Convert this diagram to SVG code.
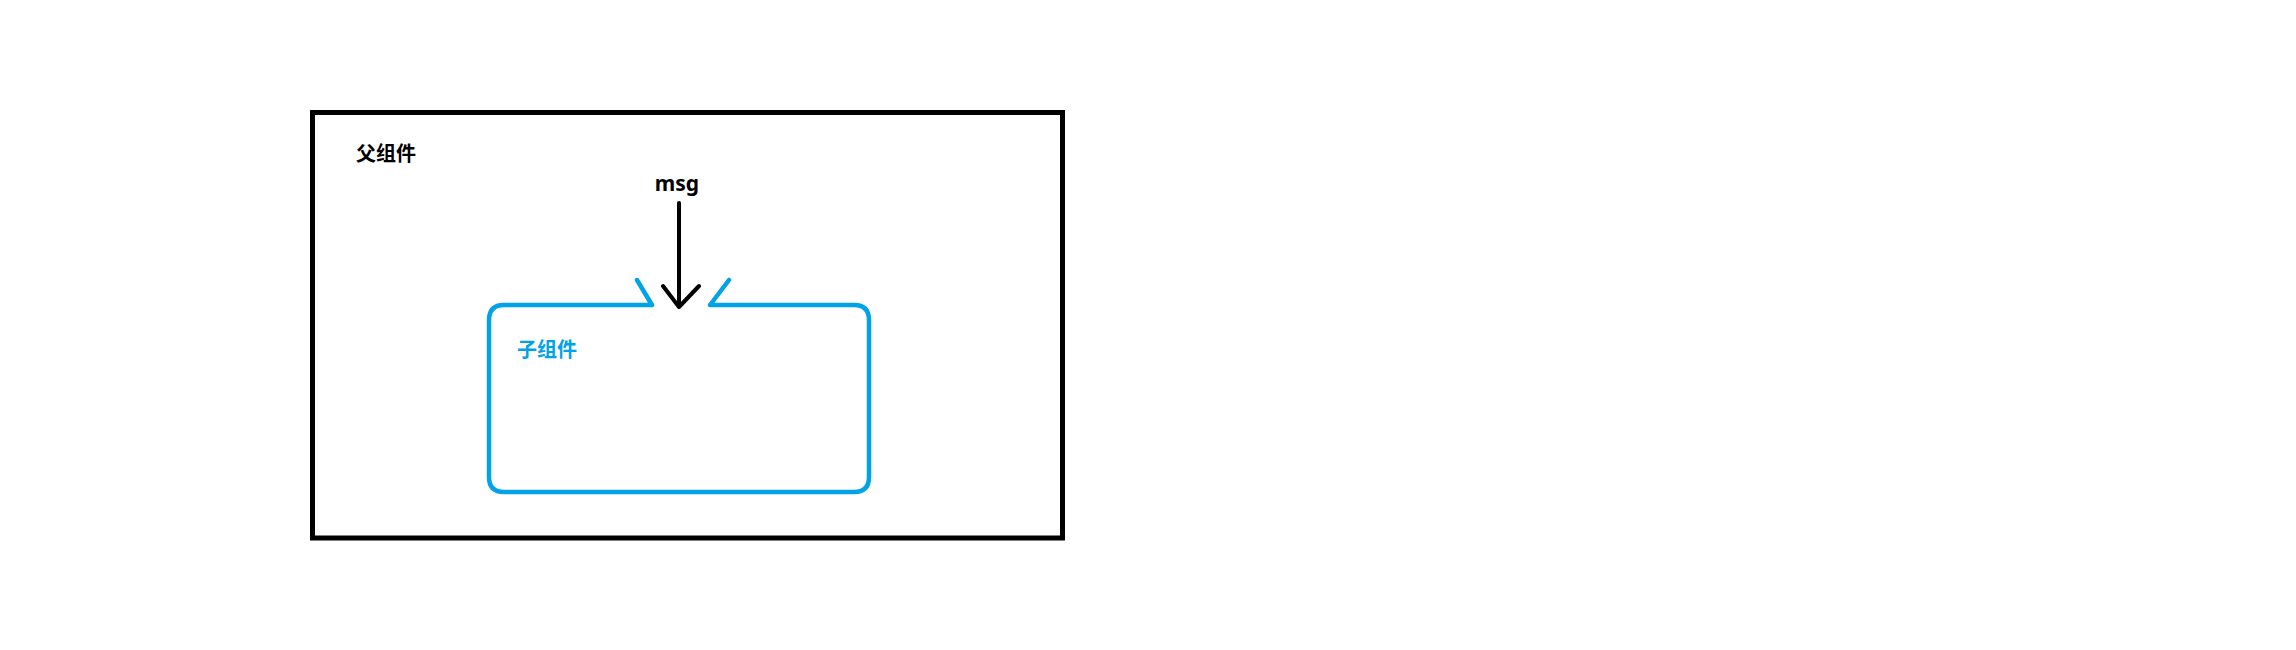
<svg xmlns="http://www.w3.org/2000/svg" width="2296" height="650" viewBox="0 0 2296 650">
<style>
.lbl{font-family:"Noto Sans","Noto Sans CJK SC",sans-serif;font-weight:bold;font-size:20px}
.blue{stroke:#00A2E8;fill:none;stroke-width:4.5;stroke-linecap:round;stroke-linejoin:round}
</style>
<rect x="0" y="0" width="2296" height="650" fill="#fff"/>
<g id="parent">
<rect x="312.5" y="112.5" width="750" height="425.5" fill="none" stroke="#000" stroke-width="5"/>
<text class="lbl" x="356" y="161" fill="#000">父组件</text>
</g>
<g id="child">
<path class="blue" d="M652,305 L504,305 Q489,305 489,320 L489,477 Q489,492 504,492 L854,492 Q869,492 869,477 L869,320 Q869,305 854,305 L710,305 L729,280 M652,305 L637,280"/>
<text class="lbl" x="517" y="357" fill="#00A2E8">子组件</text>
</g>
<g id="connectors">
<text class="lbl" x="677" y="191" text-anchor="middle" fill="#000" style="font-size:21px">msg</text>
<path d="M679,203 L679,307 M663,286 L679,307 L699,286" fill="none" stroke="#000" stroke-width="4" stroke-linecap="round" stroke-linejoin="round"/>
</g>
</svg>
